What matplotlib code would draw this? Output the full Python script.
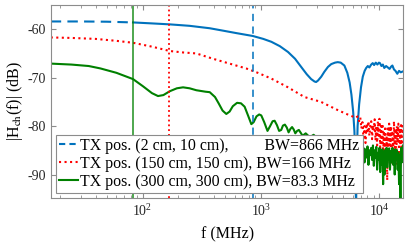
import matplotlib
matplotlib.use("Agg")
import matplotlib.pyplot as plt
import numpy as np

# ---- data ----
bw_mhz = [866, 166, 83.3]
labels = [
    "TX pos. (2 cm, 10 cm),         BW=866 MHz",
    "TX pos. (150 cm, 150 cm), BW=166 MHz",
    "TX pos. (300 cm, 300 cm), BW=83.3 MHz",
]

f_blue = [16.7, 30, 50, 83, 120, 170, 250, 370, 480, 620, 857, 1050, 1230, 1450,
          1700, 1950, 2200, 2450, 2670, 2850, 2940, 3050, 3250, 3450, 3700, 3950,
          4250, 4480, 4750, 5100, 5400, 5650, 5850, 6050, 6200, 6330, 6400, 6470,
          6600, 6800, 7050, 7300, 7570, 7800, 8050, 8300, 8600, 8860, 9100, 9400,
          9700, 10000, 10200, 10500, 10800, 11100, 11500, 11900, 12300, 12700,
          13000, 13400, 13800, 14300, 14800, 15300, 16000]
h_blue = [-58.4, -58.4, -58.45, -58.6, -58.8, -59.0, -59.3, -59.8, -60.3, -60.8,
          -61.4, -62.0, -62.6, -63.5, -64.7, -66.1, -67.8, -69.3, -70.3, -70.8,
          -70.9, -70.6, -69.8, -68.8, -67.8, -67.2, -66.9, -66.8, -66.9, -67.5,
          -69.0, -71.0, -73.5, -77.0, -81.0, -88.0, -98.0, -88.0, -80.0, -75.5,
          -72.0, -69.8, -68.6, -68.0, -67.6, -67.9, -67.3, -67.0, -67.4, -66.9,
          -67.3, -66.9, -67.0, -67.6, -67.3, -68.0, -67.6, -67.9, -68.2, -67.7,
          -67.5, -68.3, -68.6, -69.2, -68.6, -68.9, -68.7]

f_red = [16.7, 25, 40, 60, 83, 120, 170, 220, 285, 394, 544, 753, 943, 1230, 1700,
         2340, 3230, 4480, 5430, 6400, 6600, 6800, 6950, 7100, 7250, 7400, 7550,
         7700, 7850, 8000, 8150, 8300, 8450, 8600, 8750, 8900, 9050, 9200, 9350,
         9500, 9650, 9800, 9950, 10100, 10250, 10400, 10550, 10700, 10850, 11000,
         11150, 11300, 11450, 11600, 11750, 11900, 12050, 12200, 12400, 12600,
         12800, 13000, 13200, 13400, 13600, 13800, 14000, 14200, 14400, 14600,
         14800, 15000, 15200, 15400, 15600, 15800, 16000]
h_red = [-61.7, -61.8, -62.0, -62.4, -62.8, -63.6, -64.5, -64.8, -65.0, -66.1,
         -67.1, -68.1, -69.0, -70.2, -72.0, -74.0, -75.0, -76.7, -77.6, -78.3,
         -78.0, -79.0, -78.2, -80.5, -79.2, -82.5, -80.0, -83.5, -79.5, -81.5,
         -79.0, -82.0, -80.0, -79.0, -82.7, -79.8, -81.0, -78.6, -83.0, -80.0,
         -84.0, -79.0, -82.0, -78.5, -85.0, -80.0, -84.0, -79.5, -86.0, -81.0,
         -85.0, -80.0, -84.5, -82.0, -91.2, -80.5, -85.0, -79.5, -84.0, -80.0,
         -87.5, -81.0, -85.5, -79.0, -84.5, -80.5, -88.0, -80.0, -83.5, -79.5,
         -86.0, -80.5, -84.0, -79.8, -85.5, -80.0, -82.0]

f_green = [16.7, 25, 35, 44, 60, 83, 101, 120, 135, 150, 170, 195, 220, 250, 285,
           340, 370, 410, 440, 475, 511, 545, 580, 630, 680, 730, 780, 832, 870,
           920, 970, 1010, 1070, 1140, 1200, 1260, 1310, 1370, 1430, 1490, 1540,
           1600, 1660, 1720, 1780, 1840, 1900, 1960, 2030, 2100, 2180, 2260, 2400,
           2600, 2800, 3100, 3400, 3800, 4200, 4700, 5200, 5800, 6300, 6800, 6950,
           7100, 7250, 7400, 7550, 7700, 7850, 8000, 8150, 8300, 8450, 8600, 8750,
           8900, 9050, 9200, 9350, 9500, 9650, 9800, 9950, 10100, 10250, 10400,
           10550, 10700, 10850, 11000, 11150, 11300, 11450, 11600, 11750, 11900,
           12050, 12200, 12400, 12600, 12800, 13000, 13200, 13400, 13600, 13800,
           14000, 14200, 14400, 14600, 14800, 15000, 15200, 15400, 15600, 15800, 16000]
h_green = [-67.1, -67.3, -67.6, -68.1, -69.0, -70.3, -71.8, -73.2, -73.8, -73.6,
           -72.8, -72.2, -72.0, -72.2, -72.6, -72.9, -73.0, -74.0, -75.3, -76.8,
           -77.5, -77.0, -75.9, -75.2, -75.3, -76.0, -77.8, -79.6, -79.2, -78.0,
           -77.6, -77.8, -79.2, -81.0, -80.0, -79.0, -78.9, -79.8, -81.0, -80.8,
           -79.9, -79.7, -80.3, -81.3, -80.6, -80.2, -80.7, -81.5, -81.0, -80.8,
           -81.4, -82.0, -81.5, -82.3, -81.8, -82.8, -82.2, -83.0, -82.6, -83.5,
           -83.0, -84.0, -83.5, -84.2, -85.5, -84.0, -86.0, -84.5, -87.5, -84.8,
           -86.5, -84.2, -88.0, -85.0, -86.0, -84.5, -87.0, -84.0, -88.2, -85.0,
           -86.5, -84.3, -89.0, -85.5, -87.0, -84.5, -89.5, -85.0, -88.0, -84.8,
           -92.0, -85.5, -90.0, -85.0, -87.5, -84.5, -88.5, -85.0, -87.0, -84.6,
           -89.0, -85.2, -87.5, -84.5, -88.0, -85.0, -90.0, -84.8, -87.0, -85.0,
           -89.0, -85.5, -92.0, -86.0, -95.5, -84.5, -87.5, -85.0, -84.0]

c_blue, c_red, c_green = "#0072BD", "#FF0000", "#008000"

plt.rcParams["font.family"] = ["Liberation Serif", "DejaVu Serif"]
plt.rcParams["mathtext.fontset"] = "stix"

fig = plt.figure(figsize=(4.15, 2.5), dpi=100)
ax = fig.add_axes([0.123, 0.209, 0.849, 0.771])

# blue: MATLAB dash pattern only survives where points are sparse
fb = np.array(f_blue)
hb = np.array(h_blue)
low = fb <= 100
ax.plot(fb[low], hb[low], "--", color=c_blue, lw=1.5, dashes=(5, 3))
ax.plot(fb[fb >= 83], hb[fb >= 83], "-", color=c_blue, lw=1.5)
ax.plot(f_red, h_red, ":", color=c_red, lw=1.5)
ax.plot(f_green, h_green, "-", color=c_green, lw=1.5)

# bandwidth markers
ax.axvline(bw_mhz[0], color=c_blue, ls="--", lw=1.3, alpha=0.85, dashes=(4, 3))
ax.axvline(bw_mhz[1], color=c_red, ls=":", lw=1.3)
ax.axvline(bw_mhz[2], color=c_green, ls="-", lw=1.3, alpha=0.75)

ax.set_xscale("log")
ax.set_xlim(16.8, 16100)
ax.set_ylim(-94.8, -55)
ax.set_yticks([-90, -80, -70, -60])
ax.set_yticklabels(["-90", "-80", "-70", "-60"])
ax.set_xticks([100, 1000, 10000])

ax.set_xlabel("f (MHz)", fontsize=11.5, labelpad=6)
ax.set_ylabel(r"|H$_{\rm ch}$(f)| (dB)", fontsize=11.5, labelpad=2)

spine_c = "#8c8c8c"
for s in ax.spines.values():
    s.set_color(spine_c)
    s.set_linewidth(0.8)
ax.tick_params(which="both", direction="in", top=True, right=True,
               colors=spine_c, labelcolor="#262626", labelsize=10)
ax.tick_params(which="major", length=3.5)
ax.tick_params(which="minor", length=2)

handles = [
    plt.Line2D([], [], color=c_blue, ls="--", lw=1.5, dashes=(3, 2)),
    plt.Line2D([], [], color=c_red, ls=":", lw=1.5),
    plt.Line2D([], [], color=c_green, ls="-", lw=1.5),
]
leg = ax.legend(handles, labels, loc="lower left", fontsize=11.4,
                handlelength=1.2, handletextpad=0.15, borderpad=0.2,
                labelspacing=0.12, borderaxespad=0.3, fancybox=False,
                framealpha=1, edgecolor=spine_c)
leg.get_frame().set_linewidth(0.8)

fig.savefig("out.png", dpi=100)
